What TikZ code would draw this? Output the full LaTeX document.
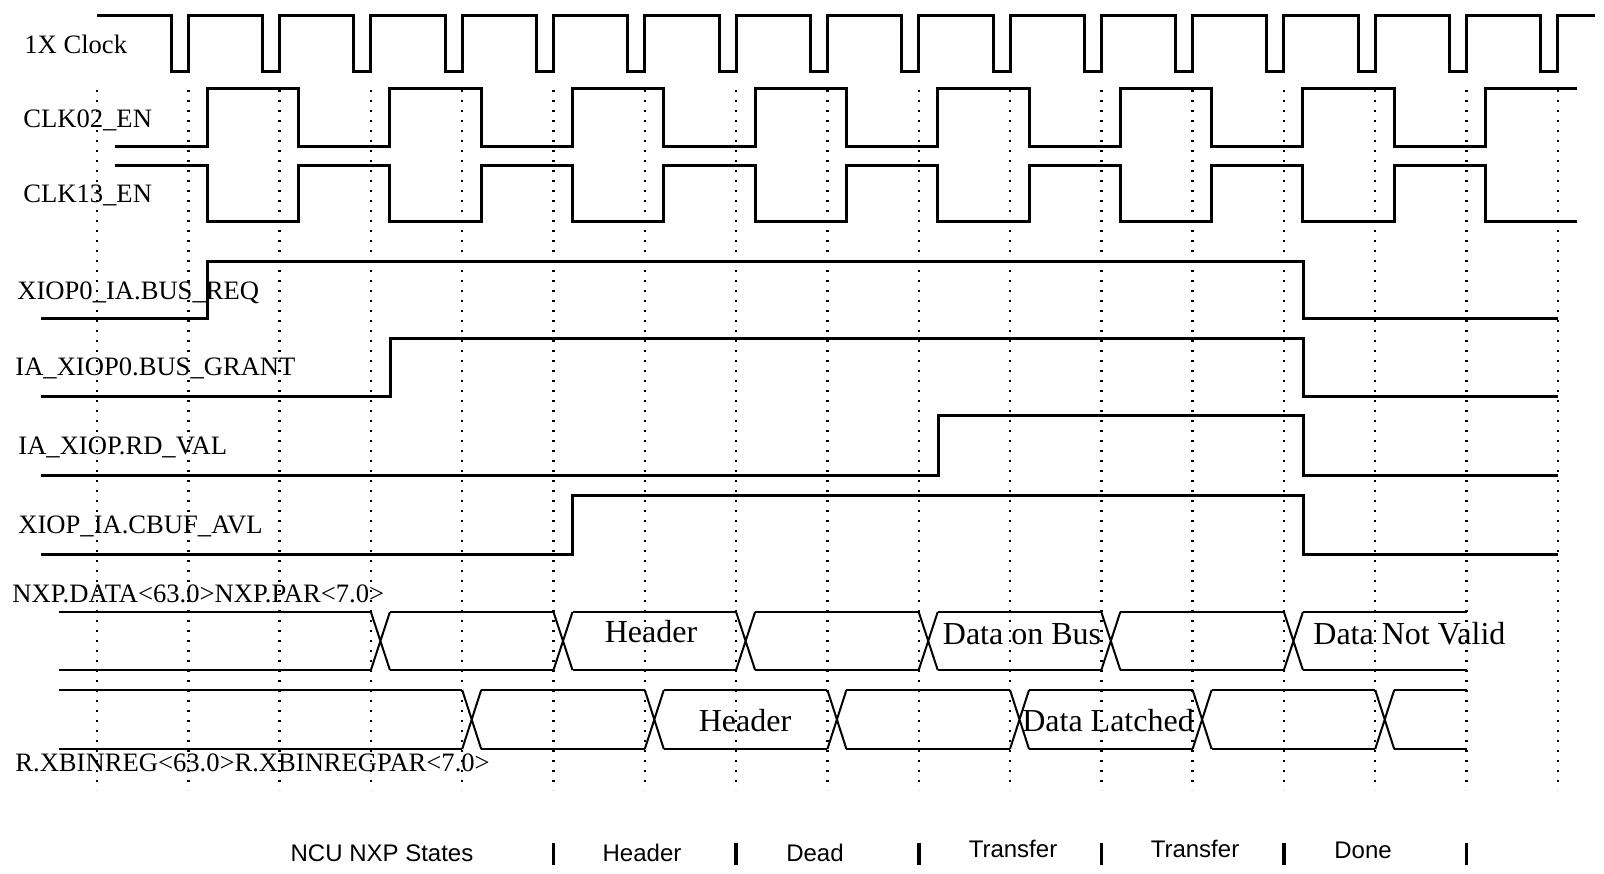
\documentclass[tikz,border=0pt]{standalone}
\usepackage{fontspec}
\setmainfont{Liberation Serif}
\newfontfamily\phasefont{Liberation Sans}
\usepackage{tikz}

\begin{document}
\begin{tikzpicture}[x=0.5pt, y=-0.5pt,
  wave/.style={line width=1.5pt, line join=miter},
  bus/.style={line width=1pt},
  dotline/.style={line width=1.2pt, dash pattern=on 1.2pt off 3.8pt},
  bar/.style={line width=1.8pt},
  sig/.style={anchor=base west, inner sep=0pt, font=\fontsize{13.3}{15}\selectfont},
  val/.style={inner sep=0pt, font=\fontsize{16}{18}\selectfont},
  phase/.style={anchor=base, inner sep=0pt, font=\phasefont\fontsize{12}{14}\selectfont}]
\useasboundingbox (0,0) rectangle (1604,873);

\def\xo{97}
\def\per{91.3}

% dotted time marks
\foreach \k in {0,...,16}
  \draw[dotline] ({\xo+\k*\per},90) -- ({\xo+\k*\per},790);

% clocks
\draw[wave] (\xo,15) \foreach \k in {1,...,16} { -- ({\xo+\k*\per-17},15) -- ++(0,56) -- ++(17,0) -- ++(0,-56) } -- (1595,15);
\draw[wave] (115,146) \foreach \k in {1,3,...,13} { -- ({\xo+\k*\per+19},146) -- ++(0,-58) -- ({\xo+(\k+1)*\per+19},88) -- ++(0,58) } -- ({\xo+15*\per+19},146) -- ++(0,-58) -- (1577,88);
\draw[wave] (115,165) \foreach \k in {1,3,...,13} { -- ({\xo+\k*\per+19},165) -- ++(0,56) -- ({\xo+(\k+1)*\per+19},221) -- ++(0,-56) } -- ({\xo+15*\per+19},165) -- ++(0,56) -- (1577,221);

% handshake lines
\draw[wave] (41,318) -- (207,318) -- (207,261) -- (1303,261) -- (1303,318) -- (1558,318);
\draw[wave] (41,396) -- (390,396) -- (390,338) -- (1303,338) -- (1303,396) -- (1558,396);
\draw[wave] (41,475) -- (938,475) -- (938,415) -- (1303,415) -- (1303,475) -- (1558,475);
\draw[wave] (41,554) -- (572,554) -- (572,495) -- (1303,495) -- (1303,554) -- (1558,554);

% data buses
\draw[bus] (59,612) \foreach \k in {3,5,...,13} { -- ({\xo+\k*\per},612) ++(19,0) } -- ({\xo+15*\per},612);
\draw[bus] (59,670) \foreach \k in {3,5,...,13} { -- ({\xo+\k*\per},670) ++(19,0) } -- ({\xo+15*\per},670);
\foreach \k in {3,5,...,13}
  \draw[bus] ({\xo+\k*\per},612) -- ++(19,58) ++(-19,0) -- ++(19,-58);
\draw[bus] (59,690) \foreach \k in {4,6,...,14} { -- ({\xo+\k*\per},690) ++(19,0) } -- ({\xo+15*\per},690);
\draw[bus] (59,749) \foreach \k in {4,6,...,14} { -- ({\xo+\k*\per},749) ++(19,0) } -- ({\xo+15*\per},749);
\foreach \k in {4,6,...,14}
  \draw[bus] ({\xo+\k*\per},690) -- ++(19,59) ++(-19,0) -- ++(19,-59);

% signal names
\node[sig] (clk) at (24,53) {1X Clock};
\node[sig] (clk02) at (23,127) {CLK02\_EN};
\node[sig] (clk13) at (23,202) {CLK13\_EN};
\node[sig] (busreq) at (17,299) {XIOP0\_IA.BUS\_REQ};
\node[sig] (busgrant) at (15,375) {IA\_XIOP0.BUS\_GRANT};
\node[sig] (rdval) at (18,454) {IA\_XIOP.RD\_VAL};
\node[sig] (cbuf) at (18,533) {XIOP\_IA.CBUF\_AVL};
\node[sig] (nxpdata) at (12,602) {NXP.DATA<63.0>NXP.PAR<7.0>};
\node[sig] (xbinreg) at (15,771) {R.XBINREG<63.0>R.XBINREGPAR<7.0>};

% bus contents
\node[val] (hdrnxp) at (651,632) {Header};
\node[val] (onbus) at (1022,634) {Data on Bus};
\node[val, anchor=west] (notvalid) at (1313,634) {Data Not Valid};
\node[val] (hdrxbin) at (745,721) {Header};
\node[val] (latched) at (1108,721) {Data Latched};

% state row
\foreach \k in {5,7,...,15}
  \draw[bar] ({\xo+\k*\per},843) -- ({\xo+\k*\per},865);
\node[phase] (ncu) at (382,861) {NCU NXP States};
\node[phase] (phhdr) at (642,861) {Header};
\node[phase] (phdead) at (815,861) {Dead};
\node[phase] (phxfa) at (1013,857) {Transfer};
\node[phase] (phxfb) at (1195,857) {Transfer};
\node[phase] (phdone) at (1363,858) {Done};
\end{tikzpicture}
\end{document}
